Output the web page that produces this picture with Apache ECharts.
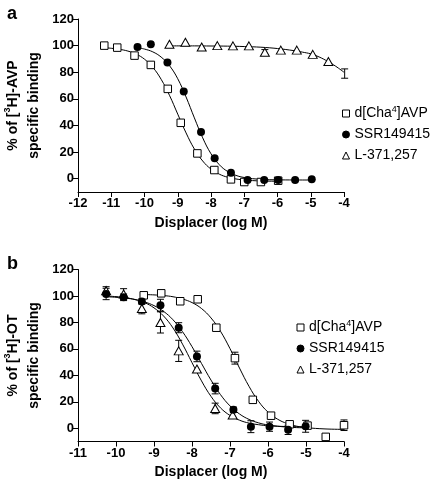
<!DOCTYPE html>
<html>
<head>
<meta charset="utf-8">
<script src="https://cdn.jsdelivr.net/npm/echarts@6/dist/echarts.min.js"></script>
<style>
html,body{margin:0;padding:0;background:#fff;}
#chart{width:438px;height:484px;}
</style>
</head>
<body>
<div id="chart"></div>
<script>
// ---------- Panel a : [3H]-AVP binding ----------
const aChaX = [-11.21, -10.82, -10.30, -9.81, -9.30, -8.91, -8.41, -7.90, -7.40, -7.00, -6.50, -5.98];
const aChaY = [100, 98.5, 92.5, 85.5, 67.5, 42, 19, 6.5, -0.5, -2.5, -2.5, -1.5];
const aSsrX = [-10.21, -9.81, -9.31, -8.82, -8.30, -7.89, -7.40, -6.90, -6.40, -5.98, -5.47, -4.97];
const aSsrY = [99, 101, 87.3, 65.5, 35, 15.3, 4.5, -1, -1, -1, -1, -0.5];
const aL37X = [-9.25, -8.77, -8.28, -7.81, -7.34, -6.86, -6.38, -5.90, -5.42, -4.94, -4.47, -3.98];
const aL37Y = [101, 102.5, 99, 100, 99.8, 99.8, 95, 96.6, 96.6, 93.4, 88, 79];
const aL37Err = [0, 0, 0, 0, 0, 0, 2, 0, 0, 0, 0, 3.5];

// fitted curves
const aChaFitX = [-11.2, -11, -10.75, -10.5, -10.25, -10, -9.75, -9.5, -9.25, -9, -8.75, -8.5, -8.25, -8, -7.75, -7.5, -7.25, -7, -6.5, -6];
const aChaFitY = [98.4, 98.0, 97.2, 95.9, 93.6, 89.8, 83.7, 74.7, 62.7, 48.5, 34.4, 22.3, 13.3, 7.2, 3.4, 1.1, -0.2, -1.0, -1.7, -1.9];
const aSsrFitX = [-10.2, -10, -9.75, -9.5, -9.25, -9, -8.75, -8.5, -8.25, -8, -7.75, -7.5, -7.25, -7, -6.5, -6, -5.5, -5];
const aSsrFitY = [98.4, 97.4, 95.3, 91.4, 85.0, 75.1, 61.4, 45.7, 30.7, 18.7, 10.5, 5.4, 2.5, 0.9, -0.5, -0.85, -0.96, -1.0];
const aL37FitX = [-9.25, -8.5, -8, -7.5, -7, -6.5, -6, -5.5, -5.25, -5, -4.75, -4.5, -4.25, -4];
const aL37FitY = [99.8, 99.8, 99.7, 99.6, 99.3, 98.8, 97.8, 96.2, 95.1, 93.8, 91.5, 88.3, 84.5, 80];

// ---------- Panel b : [3H]-OT binding ----------
const bChaX = [-9.27, -8.81, -8.31, -7.85, -7.36, -6.87, -6.40, -5.92, -5.43, -4.96, -4.48, -4.00];
const bChaY = [100.5, 102, 96, 97.5, 76, 53, 21.5, 9.5, 3, 2, -6.5, 2.3];
const bChaErr = [0, 0, 0, 0, 0, 4.5, 0, 0, 0, 2, 0, 4];
const bSsrX = [-10.26, -9.80, -9.32, -8.83, -8.35, -7.87, -7.39, -6.91, -6.45, -5.96, -5.47, -5.01];
const bSsrY = [101.5, 99, 95.8, 93, 76, 54.3, 30, 14, 1.2, 1.2, -1.2, 1.5];
const bSsrErr = [4.3, 2.5, 2, 4.5, 3.8, 4, 4, 2, 4.5, 3.5, 3.5, 4.5];
const bL37X = [-10.26, -9.80, -9.32, -8.83, -8.35, -7.87, -7.39, -6.93];
const bL37Y = [104, 101.5, 90.5, 80, 58.5, 44.8, 15, 10];
const bL37Err = [3, 4, 4, 8, 8, 0, 4, 0];

const bChaFitX = [-9.27, -9, -8.75, -8.5, -8.25, -8, -7.75, -7.5, -7.25, -7, -6.75, -6.5, -6.25, -6, -5.75, -5.5, -5.25, -5, -4.5, -4];
const bChaFitY = [101.1, 100.8, 100.3, 99.4, 97.7, 95.0, 90.5, 83.4, 73.3, 60.2, 45.5, 31.7, 20.4, 12.2, 6.9, 3.6, 1.6, 0.5, -0.5, -0.85];
const bSsrFitX = [-10.26, -10, -9.75, -9.5, -9.25, -9, -8.75, -8.5, -8.25, -8, -7.75, -7.5, -7.25, -7, -6.75, -6.5, -6.25, -6, -5.5, -5];
const bSsrFitY = [99.4, 99.0, 98.4, 97.3, 95.5, 92.7, 88.4, 82.0, 73.0, 61.7, 49.0, 36.4, 25.4, 16.9, 10.8, 6.7, 4.1, 2.5, 0.9, 0.3];
const bL37FitX = [-10.26, -10, -9.75, -9.5, -9.25, -9, -8.75, -8.5, -8.25, -8, -7.75, -7.5, -7.25, -7, -6.75, -6.5, -6.25, -6, -5.5, -5];
const bL37FitY = [99.9, 99.5, 98.7, 97.3, 95.0, 91.0, 84.9, 75.8, 63.6, 49.6, 35.8, 24.1, 15.4, 9.7, 6.1, 3.9, 2.7, 1.9, 1.3, 1.1];

const yTicks = [0, 20, 40, 60, 80, 100, 120];
const names = ['d[Cha4]AVP', 'SSR149415', 'L-371,257'];

const FONT = '"Liberation Sans", Arial, Helvetica, sans-serif';

function pairs(xs, ys) { return xs.map((x, i) => [x, ys[i]]); }
function triples(xs, ys, es) {
  const out = [];
  xs.forEach((x, i) => { if (es[i] > 0) out.push([x, ys[i], es[i]]); });
  return out;
}

function errRender(params, api) {
  const x = api.value(0), y = api.value(1), e = api.value(2);
  const t = api.coord([x, y + e]);
  const b = api.coord([x, y - e]);
  const w = 3.5;
  const st = { stroke: '#000', lineWidth: 1 };
  return {
    type: 'group',
    children: [
      { type: 'line', shape: { x1: t[0], y1: t[1], x2: b[0], y2: b[1] }, style: st },
      { type: 'line', shape: { x1: t[0] - w, y1: t[1], x2: t[0] + w, y2: t[1] }, style: st },
      { type: 'line', shape: { x1: b[0] - w, y1: b[1], x2: b[0] + w, y2: b[1] }, style: st }
    ]
  };
}

function xAxisCfg(idx, min) {
  return {
    type: 'value', gridIndex: idx, min: min, max: -4, interval: 1,
    name: 'Displacer (log M)', nameLocation: 'middle', nameGap: 24,
    nameTextStyle: { fontFamily: FONT, fontWeight: 'bold', fontSize: 14, color: '#000' },
    axisLine: { onZero: false, lineStyle: { color: '#000', width: 1 } },
    axisTick: { length: 5, lineStyle: { color: '#000', width: 1 } },
    axisLabel: { fontFamily: FONT, fontWeight: 'bold', fontSize: 13, color: '#000', margin: 5 },
    splitLine: { show: false }
  };
}
function yAxisCfg(idx, label) {
  return {
    type: 'value', gridIndex: idx, min: -10, max: 120,
    name: '{b|% of [}{sup|3}{b|H]-' + label + '}\n{b|specific binding}',
    nameLocation: 'middle', nameGap: 32, nameRotate: 90,
    nameTextStyle: {
      rich: {
        b: { fontFamily: FONT, fontWeight: 'bold', fontSize: 14, color: '#000', lineHeight: 21 },
        sup: { fontFamily: FONT, fontWeight: 'bold', fontSize: 9, color: '#000', lineHeight: 12, verticalAlign: 'top' }
      }
    },
    axisLine: { onZero: false, lineStyle: { color: '#000', width: 1 } },
    axisTick: { length: 5, customValues: yTicks, lineStyle: { color: '#000', width: 1 } },
    axisLabel: { customValues: yTicks, fontFamily: FONT, fontWeight: 'bold', fontSize: 13, color: '#000', margin: 4 },
    splitLine: { show: false }
  };
}

const sqStyle = { color: '#fff', borderColor: '#000', borderWidth: 1, opacity: 1 };
const ciStyle = { color: '#000', borderColor: '#000', borderWidth: 0, opacity: 1 };
const trStyle = { color: '#fff', borderColor: '#000', borderWidth: 1, opacity: 1 };

function fit(idx, xs, ys) {
  return {
    type: 'line', name: 'fit', xAxisIndex: idx, yAxisIndex: idx,
    data: pairs(xs, ys), smooth: 0.4, showSymbol: false, symbol: 'none',
    lineStyle: { color: '#000', width: 1 }, silent: true, z: 1
  };
}
function err(idx, data) {
  return { type: 'custom', name: 'err', xAxisIndex: idx, yAxisIndex: idx, data: data,
           renderItem: errRender, encode: { x: 0, y: 1 }, silent: true, z: 2, clip: false };
}
function scat(idx, name, xs, ys, sym, size, style) {
  return { type: 'scatter', name: name, xAxisIndex: idx, yAxisIndex: idx, data: pairs(xs, ys),
           symbol: sym, symbolSize: size, itemStyle: style, z: 3, silent: true };
}

function legendCfg(left, top) {
  return {
    orient: 'vertical', left: left, top: top, padding: 0, itemWidth: 7, itemHeight: 7, itemGap: 4,
    selectedMode: false, data: names,
    itemStyle: { borderWidth: 1, opacity: 1 },
    formatter: n => n === 'd[Cha4]AVP' ? 'd[Cha{sup|4}]AVP' : n,
    textStyle: {
      fontFamily: FONT, fontSize: 14, color: '#000', lineHeight: 17, padding: [0, 0, 0, 0],
      rich: { sup: { fontFamily: FONT, fontSize: 9, color: '#000', lineHeight: 10, verticalAlign: 'top' } }
    }
  };
}

const chart = echarts.init(document.getElementById('chart'), null, { renderer: 'canvas' });
chart.setOption({
  animation: false,
  backgroundColor: '#fff',
  grid: [
    { left: 78, right: 94, top: 19, height: 173, outerBoundsMode: 'none', containLabel: false },
    { left: 78, right: 94, top: 269.5, height: 172, outerBoundsMode: 'none', containLabel: false }
  ],
  xAxis: [xAxisCfg(0, -12), xAxisCfg(1, -11)],
  yAxis: [yAxisCfg(0, 'AVP'), yAxisCfg(1, 'OT')],
  legend: [legendCfg(342, 105), legendCfg(296.5, 319)],
  graphic: [
    { type: 'text', left: 7, top: 5, style: { text: 'a', fontFamily: FONT, fontWeight: 'bold', fontSize: 18, fill: '#000' } },
    { type: 'text', left: 7, top: 255, style: { text: 'b', fontFamily: FONT, fontWeight: 'bold', fontSize: 18, fill: '#000' } }
  ],
  series: [
    fit(0, aChaFitX, aChaFitY), fit(0, aSsrFitX, aSsrFitY), fit(0, aL37FitX, aL37FitY),
    err(0, triples(aL37X, aL37Y, aL37Err)),
    scat(0, 'L-371,257', aL37X, aL37Y, 'triangle', [9, 8], trStyle),
    scat(0, 'd[Cha4]AVP', aChaX, aChaY, 'rect', 7.5, sqStyle),
    scat(0, 'SSR149415', aSsrX, aSsrY, 'circle', 8, ciStyle),

    fit(1, bChaFitX, bChaFitY), fit(1, bSsrFitX, bSsrFitY), fit(1, bL37FitX, bL37FitY),
    err(1, triples(bL37X, bL37Y, bL37Err)),
    err(1, triples(bChaX, bChaY, bChaErr)),
    err(1, triples(bSsrX, bSsrY, bSsrErr)),
    scat(1, 'L-371,257', bL37X, bL37Y, 'triangle', [9, 8], trStyle),
    scat(1, 'd[Cha4]AVP', bChaX, bChaY, 'rect', 7.5, sqStyle),
    scat(1, 'SSR149415', bSsrX, bSsrY, 'circle', 8, ciStyle)
  ]
});
</script>
</body>
</html>
